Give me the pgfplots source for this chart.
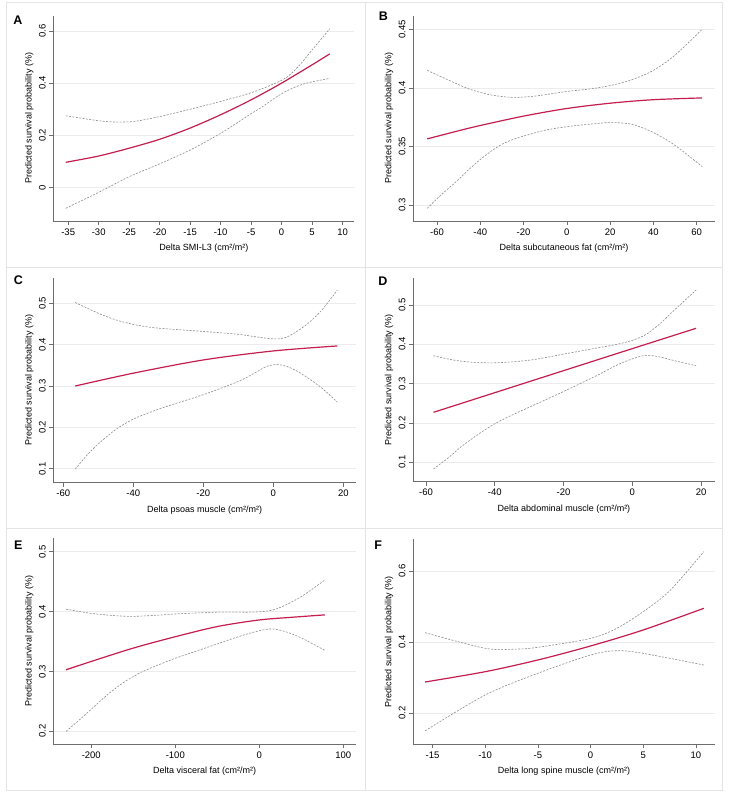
\documentclass[border=0pt]{standalone}
\usepackage{fontspec}
\setmainfont{Liberation Sans}
\usepackage{pgfplots}
\pgfplotsset{compat=1.18}

\definecolor{fitred}{HTML}{C41E4E}
\definecolor{cigray}{HTML}{8C8C8C}
\definecolor{axgray}{HTML}{6E6E6E}
\definecolor{gridgray}{HTML}{ECECEC}
\definecolor{boxgray}{HTML}{E4E4E4}

\pgfplotsset{
  panel/.style={
    scale only axis, anchor=south west,
    axis x line*=bottom, axis y line*=left,
    axis line style={axgray, line width=0.6pt},
    tick align=outside, major tick length=4pt,
    tick style={axgray, line width=0.6pt},
    ymajorgrids, grid style={gridgray, line width=0.7pt},
    ticklabel style={font=\fontsize{9.5}{11}\selectfont},
    /pgf/number format/assume math mode=true,
    scaled ticks=false,
    yticklabel style={rotate=90, anchor=south},
    label style={font=\fontsize{9}{11}\selectfont},
    xlabel style={at={([yshift=-27pt]axis description cs:0.5,0)}, anchor=center},
    ylabel style={at={([xshift=-24pt]axis description cs:0,0.5)}, anchor=center},
    ylabel={Predicted survival probability (\%)},
  },
  fit/.style={fitred, line width=1.2pt, smooth, no markers},
  ci/.style={cigray, line width=0.6pt, dash pattern=on 2pt off 1.4pt, smooth, no markers},
}

\begin{document}
\begin{tikzpicture}
\useasboundingbox[fill=white] (0pt,0pt) rectangle (731pt,800pt);

% panel frames
\draw[boxgray, line width=0.6pt] (6pt,532.3pt) rectangle (365.5pt,798pt);
\draw[boxgray, line width=0.6pt] (365.5pt,532.3pt) rectangle (722.5pt,798pt);
\draw[boxgray, line width=0.6pt] (6pt,272pt) rectangle (365.5pt,532.3pt);
\draw[boxgray, line width=0.6pt] (365.5pt,272pt) rectangle (722.5pt,532.3pt);
\draw[boxgray, line width=0.6pt] (6pt,9.3pt) rectangle (365.5pt,272pt);
\draw[boxgray, line width=0.6pt] (365.5pt,9.3pt) rectangle (722.5pt,272pt);

% A
\begin{axis}[panel, at={(53.3pt,579pt)}, width=301pt, height=205.3pt,
  xmin=-37.44, xmax=11.92, ymin=-0.1276, ymax=0.658,
  xtick={-35,-30,-25,-20,-15,-10,-5,0,5,10}, ytick={0,0.2,0.4,0.6},
  xlabel={Delta SMI-L3 (cm²/m²)}]
\addplot[ci] coordinates {(-35.4,0.275) (-30,0.256) (-27,0.251) (-24,0.254) (-20,0.272) (-15,0.300) (-10,0.330) (-5,0.363) (-1,0.400) (1,0.425) (3,0.47) (5,0.527) (7.9,0.608)};
\addplot[ci] coordinates {(-35.4,-0.079) (-30,-0.018) (-25,0.042) (-20,0.091) (-15,0.144) (-10,0.208) (-5,0.283) (-3,0.312) (-1,0.345) (1,0.372) (3,0.392) (5,0.405) (7.9,0.418)};
\addplot[fit] coordinates {(-35.4,0.097) (-30,0.121) (-25,0.151) (-20,0.185) (-15,0.228) (-10,0.279) (-5,0.336) (0,0.400) (5,0.470) (7.9,0.512)};
\end{axis}

% B
\begin{axis}[panel, at={(413pt,579pt)}, width=302pt, height=205.3pt,
  xmin=-71.07, xmax=68.44, ymin=0.2866, ymax=0.4616,
  xtick={-60,-40,-20,0,20,40,60}, ytick={0.3,0.35,0.4,0.45},
  xlabel={Delta subcutaneous fat (cm²/m²)}]
\addplot[ci] coordinates {(-64.5,0.415) (-55,0.407) (-45,0.399) (-35,0.394) (-25,0.392) (-15,0.393) (0,0.397) (10,0.399) (20,0.402) (30,0.407) (40,0.415) (50,0.428) (62.5,0.45)};
\addplot[ci] coordinates {(-64.5,0.2974) (-58,0.309) (-50,0.322) (-45,0.331) (-40,0.339) (-35,0.346) (-30,0.352) (-25,0.356) (-20,0.359) (-10,0.364) (0,0.367) (10,0.369) (20,0.3705) (30,0.369) (40,0.362) (50,0.351) (62.5,0.333)};
\addplot[fit] coordinates {(-64.5,0.3566) (-50,0.3635) (-40,0.368) (-20,0.376) (0,0.3825) (20,0.387) (40,0.390) (62.5,0.3915)};
\end{axis}

% C
\begin{axis}[panel, at={(53.3pt,317.3pt)}, width=302.7pt, height=205pt,
  xmin=-62.86, xmax=23.63, ymin=0.0661, ymax=0.562,
  xtick={-60,-40,-20,0,20}, ytick={0.1,0.2,0.3,0.4,0.5},
  xlabel={Delta psoas muscle (cm²/m²)}]
\addplot[ci] coordinates {(-56.6,0.502) (-50,0.476) (-45,0.460) (-40,0.449) (-35,0.442) (-30,0.438) (-20,0.432) (-10,0.425) (-5,0.419) (0,0.414) (3,0.416) (6,0.428) (10,0.452) (14,0.485) (18.3,0.532)};
\addplot[ci] coordinates {(-56.6,0.099) (-53,0.135) (-50,0.160) (-45,0.195) (-40,0.220) (-35,0.237) (-30,0.252) (-20,0.279) (-10,0.311) (-5,0.333) (-2,0.347) (1,0.352) (4,0.347) (7,0.335) (10,0.319) (14,0.294) (18.3,0.261)};
\addplot[fit] coordinates {(-56.6,0.300) (-40,0.331) (-20,0.363) (0,0.3848) (18.3,0.3969)};
\end{axis}

% D
\begin{axis}[panel, at={(413pt,318.3pt)}, width=302pt, height=204pt,
  xmin=-63.77, xmax=24.06, ymin=0.0507, ymax=0.5694,
  xtick={-60,-40,-20,0,20}, ytick={0.1,0.2,0.3,0.4,0.5},
  xlabel={Delta abdominal muscle (cm²/m²)}]
\addplot[ci] coordinates {(-57.8,0.371) (-52,0.360) (-46,0.354) (-40,0.353) (-34,0.356) (-28,0.362) (-20,0.375) (-10,0.391) (-5,0.399) (0,0.410) (4,0.425) (8,0.452) (12,0.485) (18.55,0.538)};
\addplot[ci] coordinates {(-57.8,0.083) (-53,0.115) (-50,0.138) (-45,0.170) (-40,0.198) (-35,0.220) (-30,0.240) (-20,0.280) (-10,0.322) (-5,0.345) (0,0.363) (4,0.372) (8,0.368) (12,0.359) (18.55,0.3456)};
\addplot[fit] coordinates {(-57.8,0.2271) (-40,0.2770) (-20,0.333) (0,0.389) (18.55,0.4407)};
\end{axis}

% E
\begin{axis}[panel, at={(53.3pt,55.7pt)}, width=302.7pt, height=206pt,
  xmin=-245.2, xmax=115.1, ymin=0.1783, ymax=0.5224,
  xtick={-200,-100,0,100}, ytick={0.2,0.3,0.4,0.5},
  xlabel={Delta visceral fat (cm²/m²)}]
\addplot[ci] coordinates {(-230,0.404) (-200,0.397) (-170,0.393) (-150,0.392) (-120,0.394) (-100,0.396) (-50,0.399) (-10,0.399) (10,0.401) (25,0.407) (50,0.425) (78.2,0.453)};
\addplot[ci] coordinates {(-230,0.2) (-215,0.218) (-200,0.237) (-180,0.262) (-160,0.283) (-140,0.299) (-120,0.311) (-100,0.322) (-75,0.334) (-50,0.346) (-25,0.358) (0,0.368) (15,0.371) (30,0.367) (50,0.356) (78.2,0.335)};
\addplot[fit] coordinates {(-230,0.3028) (-200,0.3167) (-150,0.339) (-100,0.358) (-50,0.375) (0,0.386) (40,0.3906) (78.2,0.3945)};
\end{axis}

% F
\begin{axis}[panel, at={(413pt,55.7pt)}, width=302pt, height=205pt,
  xmin=-16.85, xmax=11.82, ymin=0.1118, ymax=0.6893,
  xtick={-15,-10,-5,0,5,10}, ytick={0.2,0.4,0.6},
  xlabel={Delta long spine muscle (cm²/m²)}]
\addplot[ci] coordinates {(-15.7,0.4262) (-10,0.3822) (-7,0.380) (-5,0.385) (0,0.410) (2.5,0.4386) (5,0.4854) (7.5,0.5436) (10.76,0.6544)};
\addplot[ci] coordinates {(-15.7,0.1497) (-10,0.2507) (-5,0.3118) (0,0.3634) (2.5,0.3755) (5,0.368) (10.76,0.3352)};
\addplot[fit] coordinates {(-15.7,0.2873) (-10,0.3163) (-5,0.3493) (0,0.3887) (5,0.4338) (10.76,0.4949)};
\end{axis}

% panel letters
\begin{scope}[every node/.style={font=\fontsize{12.5}{14}\bfseries\selectfont, anchor=center}]
\node at (18pt,780pt) {A};
\node at (383.3pt,783.3pt) {B};
\node at (18.3pt,520pt) {C};
\node at (383pt,518.3pt) {D};
\node at (18.3pt,255pt) {E};
\node at (378.3pt,255pt) {F};
\end{scope}
\end{tikzpicture}
\end{document}
